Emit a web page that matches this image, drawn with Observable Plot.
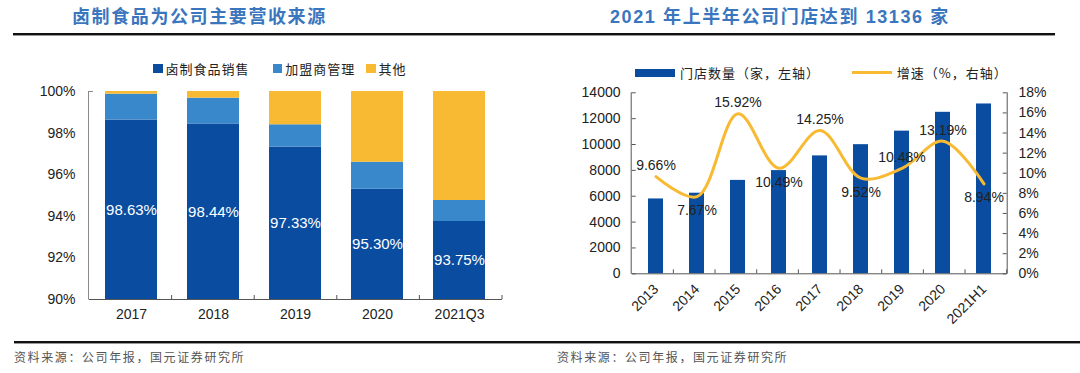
<!DOCTYPE html>
<html><head><meta charset="utf-8">
<script src="https://cdn.jsdelivr.net/npm/d3@7"></script>
<script src="https://cdn.jsdelivr.net/npm/@observablehq/plot@0.6"></script>
<style>
body{margin:0;width:1080px;height:373px;position:relative;background:#fff;overflow:hidden;font-family:"Liberation Sans",Arial,sans-serif}
.abs{position:absolute;white-space:nowrap}
.title{font-family:"Liberation Sans","Noto Sans CJK SC",sans-serif;font-weight:700;font-size:18px;color:#3A76BE;letter-spacing:1.6px;top:5px;line-height:24px}
.leg{font-family:"Noto Sans CJK SC",sans-serif;font-size:13px;color:#222;letter-spacing:1px;line-height:16px}
.foot{font-family:"Noto Sans CJK SC",sans-serif;font-size:12px;color:#555;letter-spacing:1.6px;top:349px;line-height:16px}
.sw{display:inline-block;vertical-align:middle}
</style></head><body>
<div class="abs title" style="left:72px">卤制食品为公司主要营收来源</div>
<div class="abs title" style="left:610px">2021 年上半年公司门店达到 13136 家</div>
<div class="abs" style="left:13px;top:33px;width:1042px;height:2px;background:#111;box-shadow:0 1px 0 #999"></div>
<div class="abs" style="left:14px;top:341px;width:1066px;height:2px;background:#111;box-shadow:0 1px 0 #999"></div>
<div class="abs foot" style="left:14px">资料来源：公司年报，国元证券研究所</div>
<div class="abs foot" style="left:557px">资料来源：公司年报，国元证券研究所</div>
<div id="legL"></div>
<div id="legR"></div>
<div id="chartL" class="abs" style="left:0;top:80px"></div>
<div id="chartR" class="abs" style="left:540px;top:80px"></div>
<script>
// ---- Left chart data ----
const categoriesL = ["2017", "2018", "2019", "2020", "2021Q3"];
const seriesL = ["卤制食品销售", "加盟商管理", "其他"];
const food = [98.63, 98.44, 97.33, 95.30, 93.75];
const franchise = [1.24, 1.24, 1.07, 1.30, 1.01];
const other = [0.13, 0.32, 1.60, 3.40, 5.24];
const yTicksL = [90, 92, 94, 96, 98, 100];

// ---- Right chart data ----
const yearsR = ["2013", "2014", "2015", "2016", "2017", "2018", "2019", "2020", "2021H1"];
const stores = [5790, 6234, 7225, 7983, 9120, 9988, 11035, 12491, 13136];
const growth = [9.66, 7.67, 15.92, 10.49, 14.25, 9.52, 10.48, 13.19, 8.94];
const labelSide = ["above", "below", "above", "below", "above", "below", "above", "above", "below"];
const storeTicks = [0, 2000, 4000, 6000, 8000, 10000, 12000, 14000];
const pctTicks = [0, 2, 4, 6, 8, 10, 12, 14, 16, 18];
const seriesR = ["门店数量（家，左轴）", "增速（%，右轴）"];

const DARK = "#0A4DA0", LIGHT = "#3A88CC", YELLOW = "#F8B933";
const colorsL = [DARK, LIGHT, YELLOW];

// Legends (HTML)
const legL = document.getElementById("legL");
const legLx = [153, 272.7, 366];
seriesL.forEach((s, i) => {
  const d = document.createElement("div");
  d.className = "abs leg";
  d.style.left = legLx[i] + "px"; d.style.top = "60.5px";
  d.innerHTML = `<span class="sw" style="width:9.5px;height:9.5px;background:${colorsL[i]};margin-right:3px;margin-top:-3px"></span>${s}`;
  legL.appendChild(d);
});
const legR = document.getElementById("legR");
{
  const a = document.createElement("div");
  a.className = "abs leg"; a.style.left = "635px"; a.style.top = "65px";
  a.innerHTML = `<span class="sw" style="width:40px;height:8px;background:${DARK};margin-right:5px;margin-top:-3px"></span>${seriesR[0]}`;
  legR.appendChild(a);
  const b = document.createElement("div");
  b.className = "abs leg"; b.style.left = "851.7px"; b.style.top = "65px";
  b.innerHTML = `<span class="sw" style="width:40px;height:3px;background:${YELLOW};margin-right:5px;margin-top:-3px"></span>${seriesR[1]}`;
  legR.appendChild(b);
}

// Custom axis lines / inward ticks drawn from plot dimensions and scales
function axisDecor(opts) {
  return (index, scales, values, dim) => {
    const {width, height, marginLeft: ml, marginRight: mr, marginTop: mt, marginBottom: mb} = dim;
    const x0 = ml, x1 = width - mr, y0 = mt, y1 = height - mb;
    const g = d3.create("svg:g").attr("stroke", opts.stroke).attr("stroke-width", 1).attr("fill", "none");
    g.append("line").attr("x1", x0).attr("x2", x1).attr("y1", y1 + 0.5).attr("y2", y1 + 0.5).attr("stroke", opts.xStroke || opts.stroke);
    g.append("line").attr("x1", x0 - 0.5).attr("x2", x0 - 0.5).attr("y1", y0).attr("y2", y1 + 0.5);
    if (opts.right) g.append("line").attr("x1", x1 + 0.5).attr("x2", x1 + 0.5).attr("y1", y0).attr("y2", y1 + 0.5);
    const n = opts.n;
    for (let k = 1; k <= n; k++) {
      const x = x0 + k * (x1 - x0) / n;
      g.append("line").attr("x1", x).attr("x2", x).attr("y1", y1).attr("y2", y1 - 4).attr("stroke", opts.xStroke || opts.stroke);
    }
    (opts.leftTicks || []).forEach(v => {
      const y = scales.y(v);
      g.append("line").attr("x1", x0).attr("x2", x0 + 4).attr("y1", y + 0.5).attr("y2", y + 0.5);
    });
    (opts.rightTicks || []).forEach(v => {
      const y = scales.y(v);
      g.append("line").attr("x1", x1).attr("x2", x1 - 4).attr("y1", y + 0.5).attr("y2", y + 0.5);
    });
    return g.node();
  };
}

// ---- Left chart ----
const rowsL = categoriesL.flatMap((c, i) => [
  {cat: c, s: seriesL[0], v: food[i]},
  {cat: c, s: seriesL[1], v: franchise[i]},
  {cat: c, s: seriesL[2], v: other[i]}
]);
const left = Plot.plot({
  width: 540, height: 250,
  marginTop: 11, marginBottom: 31, marginLeft: 89, marginRight: 38,
  style: {fontFamily: '"Liberation Sans",Arial,sans-serif', fontSize: "14px", color: "#222", background: "transparent", overflow: "visible"},
  x: {domain: categoriesL, paddingInner: 0.36, paddingOuter: 0.18, label: null},
  y: {domain: [90, 100], clamp: true, label: null},
  color: {domain: seriesL, range: colorsL},
  marks: [
    Plot.barY(rowsL, {x: "cat", y: "v", fill: "s"}),
    Plot.text(categoriesL, {x: d => d, y: (d, i) => (90 + food[i]) / 2, text: (d, i) => food[i].toFixed(2) + "%", fill: "#fff", fontSize: 15}),
    Plot.axisY({ticks: yTicksL, tickFormat: d => d + "%", tickSize: 0, tickPadding: 14, fontSize: 14}),
    Plot.axisX({tickSize: 0, tickPadding: 10, fontSize: 14}),
    axisDecor({stroke: "#8a8a8a", xStroke: "#555", n: categoriesL.length, leftTicks: [100]})
  ]
});
document.getElementById("chartL").appendChild(left);

// ---- Right chart ----
const k = 14000 / 18;
const right = Plot.plot({
  width: 540, height: 262,
  marginTop: 12.3, marginBottom: 68.7, marginLeft: 91.7, marginRight: 73.3,
  style: {fontFamily: '"Liberation Sans",Arial,sans-serif', fontSize: "14px", color: "#222", background: "transparent", overflow: "visible"},
  x: {domain: yearsR, paddingInner: 0.64, paddingOuter: 0.32, label: null},
  y: {domain: [0, 14000], label: null},
  marks: [
    Plot.barY(yearsR, {x: d => d, y: (d, i) => stores[i], fill: DARK}),
    Plot.line(yearsR, {x: d => d, y: (d, i) => growth[i] * k, stroke: YELLOW, strokeWidth: 3, curve: "catmull-rom"}),
    Plot.text(yearsR.filter((d, i) => labelSide[i] === "above"), {
      x: d => d, y: d => growth[yearsR.indexOf(d)] * k, text: d => growth[yearsR.indexOf(d)].toFixed(2) + "%",
      dy: -11, fontSize: 14, fill: "#222"}),
    Plot.text(yearsR.filter((d, i) => labelSide[i] === "below"), {
      x: d => d, y: d => growth[yearsR.indexOf(d)] * k, text: d => growth[yearsR.indexOf(d)].toFixed(2) + "%",
      dy: 14, fontSize: 14, fill: "#222"}),
    Plot.axisY({ticks: storeTicks, tickFormat: d => String(d), tickSize: 0, tickPadding: 11.7, fontSize: 14}),
    Plot.axisY({anchor: "right", ticks: pctTicks.map(p => p * k), tickFormat: d => Math.round(d / k) + "%", tickSize: 0, tickPadding: 11.3, fontSize: 14}),
    Plot.axisX({tickRotate: -45, tickSize: 0, tickPadding: 13, fontSize: 14}),
    axisDecor({stroke: "#555", n: yearsR.length, right: true, leftTicks: storeTicks, rightTicks: pctTicks.map(p => p * k)})
  ]
});
document.getElementById("chartR").appendChild(right);
</script>
</body></html>
